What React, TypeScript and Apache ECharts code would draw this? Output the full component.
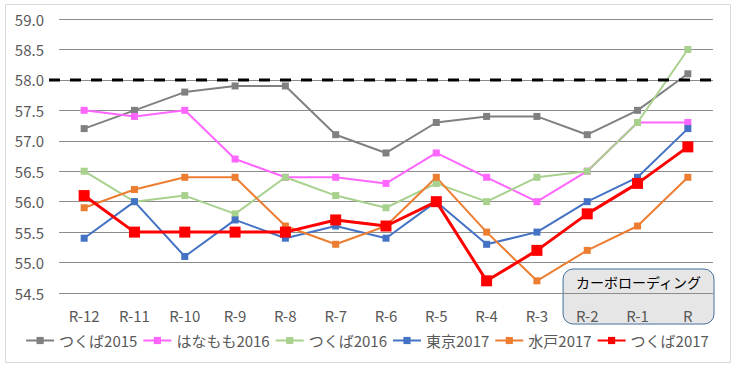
import React, { useEffect, useRef } from "react";
import * as echarts from "echarts";

const categories = ["R-12", "R-11", "R-10", "R-9", "R-8", "R-7", "R-6", "R-5", "R-4", "R-3", "R-2", "R-1", "R"];
const tsukuba2015 = [57.2, 57.5, 57.8, 57.9, 57.9, 57.1, 56.8, 57.3, 57.4, 57.4, 57.1, 57.5, 58.1];
const hanamomo2016 = [57.5, 57.4, 57.5, 56.7, 56.4, 56.4, 56.3, 56.8, 56.4, 56.0, 56.5, 57.3, 57.3];
const tsukuba2016 = [56.5, 56.0, 56.1, 55.8, 56.4, 56.1, 55.9, 56.3, 56.0, 56.4, 56.5, 57.3, 58.5];
const tokyo2017 = [55.4, 56.0, 55.1, 55.7, 55.4, 55.6, 55.4, 56.0, 55.3, 55.5, 56.0, 56.4, 57.2];
const mito2017 = [55.9, 56.2, 56.4, 56.4, 55.6, 55.3, 55.6, 56.4, 55.5, 54.7, 55.2, 55.6, 56.4];
const tsukuba2017 = [56.1, 55.5, 55.5, 55.5, 55.5, 55.7, 55.6, 56.0, 54.7, 55.2, 55.8, 56.3, 56.9];
const thresholdValue = 58.0;
const carboLabel = "カーボローディング";
const carboStart = "R-2";

const FONT = "'Noto Sans CJK JP', 'Noto Sans', sans-serif";

export default function App() {
  const ref = useRef<HTMLDivElement>(null);
  useEffect(() => {
    if (!ref.current) return;
    const chart = echarts.init(ref.current, null, { renderer: "svg" });
    const mk = (name: string, data: number[], color: string, width: number, size: number, z = 2) => ({
      name,
      type: "line",
      data,
      symbol: "rect",
      symbolSize: size,
      showSymbol: true,
      z,
      lineStyle: { color, width },
      itemStyle: { color },
    });
    chart.setOption({
      animation: false,
      textStyle: { fontFamily: FONT },
      grid: { left: 59, right: 21, top: 19, bottom: 74, containLabel: false },
      xAxis: {
        type: "category",
        data: categories,
        boundaryGap: true,
        axisLine: { show: false },
        axisTick: { show: false },
        axisLabel: { color: "#595959", fontSize: 15, margin: 15, fontFamily: FONT },
      },
      yAxis: {
        type: "value",
        min: 54.5,
        max: 59,
        interval: 0.5,
        axisLine: { show: false },
        axisTick: { show: false },
        splitLine: { lineStyle: { color: "#8C8C8C", width: 1 } },
        axisLabel: {
          color: "#595959",
          fontSize: 15,
          margin: 15,
          fontFamily: FONT,
          formatter: (v: number) => v.toFixed(1),
        },
      },
      legend: {
        bottom: 14,
        left: "center",
        itemWidth: 28,
        itemHeight: 9,
        itemGap: 5,
        textStyle: { color: "#595959", fontSize: 15, fontFamily: FONT },
        data: ["つくば2015", "はなもも2016", "つくば2016", "東京2017", "水戸2017", "つくば2017"],
      },
      series: [
        mk("つくば2015", tsukuba2015, "#808080", 2, 7),
        mk("はなもも2016", hanamomo2016, "#FF66FF", 2, 7),
        mk("つくば2016", tsukuba2016, "#A9D18E", 2, 7),
        mk("東京2017", tokyo2017, "#4472C4", 2, 7),
        mk("水戸2017", mito2017, "#ED7D31", 2, 7),
        mk("つくば2017", tsukuba2017, "#FF0000", 3, 11, 3),
      ],
    });

    const yT = chart.convertToPixel({ yAxisIndex: 0 }, thresholdValue) as number;
    const idx = categories.indexOf(carboStart);
    const xA = chart.convertToPixel({ xAxisIndex: 0 }, categories[idx]) as number;
    const xB = chart.convertToPixel({ xAxisIndex: 0 }, categories[idx - 1]) as number;
    const xLast = chart.convertToPixel({ xAxisIndex: 0 }, categories[categories.length - 1]) as number;
    const band = xA - xB;
    const boxLeft = xA - band / 2 + 1;
    const boxRight = xLast + band / 2 + 1;
    const yBottomAxis = chart.convertToPixel({ yAxisIndex: 0 }, 54.5) as number;
    const boxTop = yBottomAxis - 24;
    const boxBottom = yBottomAxis + 31;

    chart.setOption({
      graphic: [
        {
          type: "rect",
          z: -10,
          silent: true,
          shape: { x: 5.5, y: 4.5, width: 725, height: 358 },
          style: { fill: "#fff", stroke: "#D9D9D9", lineWidth: 1 },
        },
        {
          type: "rect",
          z: -5,
          silent: true,
          shape: { x: boxLeft, y: boxTop, width: boxRight - boxLeft, height: boxBottom - boxTop, r: 10 },
          style: { fill: "#E7E6E6", stroke: "#41719C", lineWidth: 1 },
        },
        {
          type: "text",
          z: 5,
          silent: true,
          x: (boxLeft + boxRight) / 2,
          y: boxTop + 13,
          style: {
            text: carboLabel,
            fill: "#000",
            font: `14px ${FONT}`,
            align: "center",
            verticalAlign: "middle",
          },
        },
        {
          type: "line",
          z: 4,
          silent: true,
          shape: { x1: 49, y1: yT, x2: 713, y2: yT },
          style: { stroke: "#000", lineWidth: 3, lineDash: [11, 10] },
        },
      ],
    });
    return () => chart.dispose();
  }, []);
  return (
    <div
      ref={ref}
      style={{ position: "fixed", left: 0, top: 0, width: 734, height: 367, background: "#fff" }}
    />
  );
}
